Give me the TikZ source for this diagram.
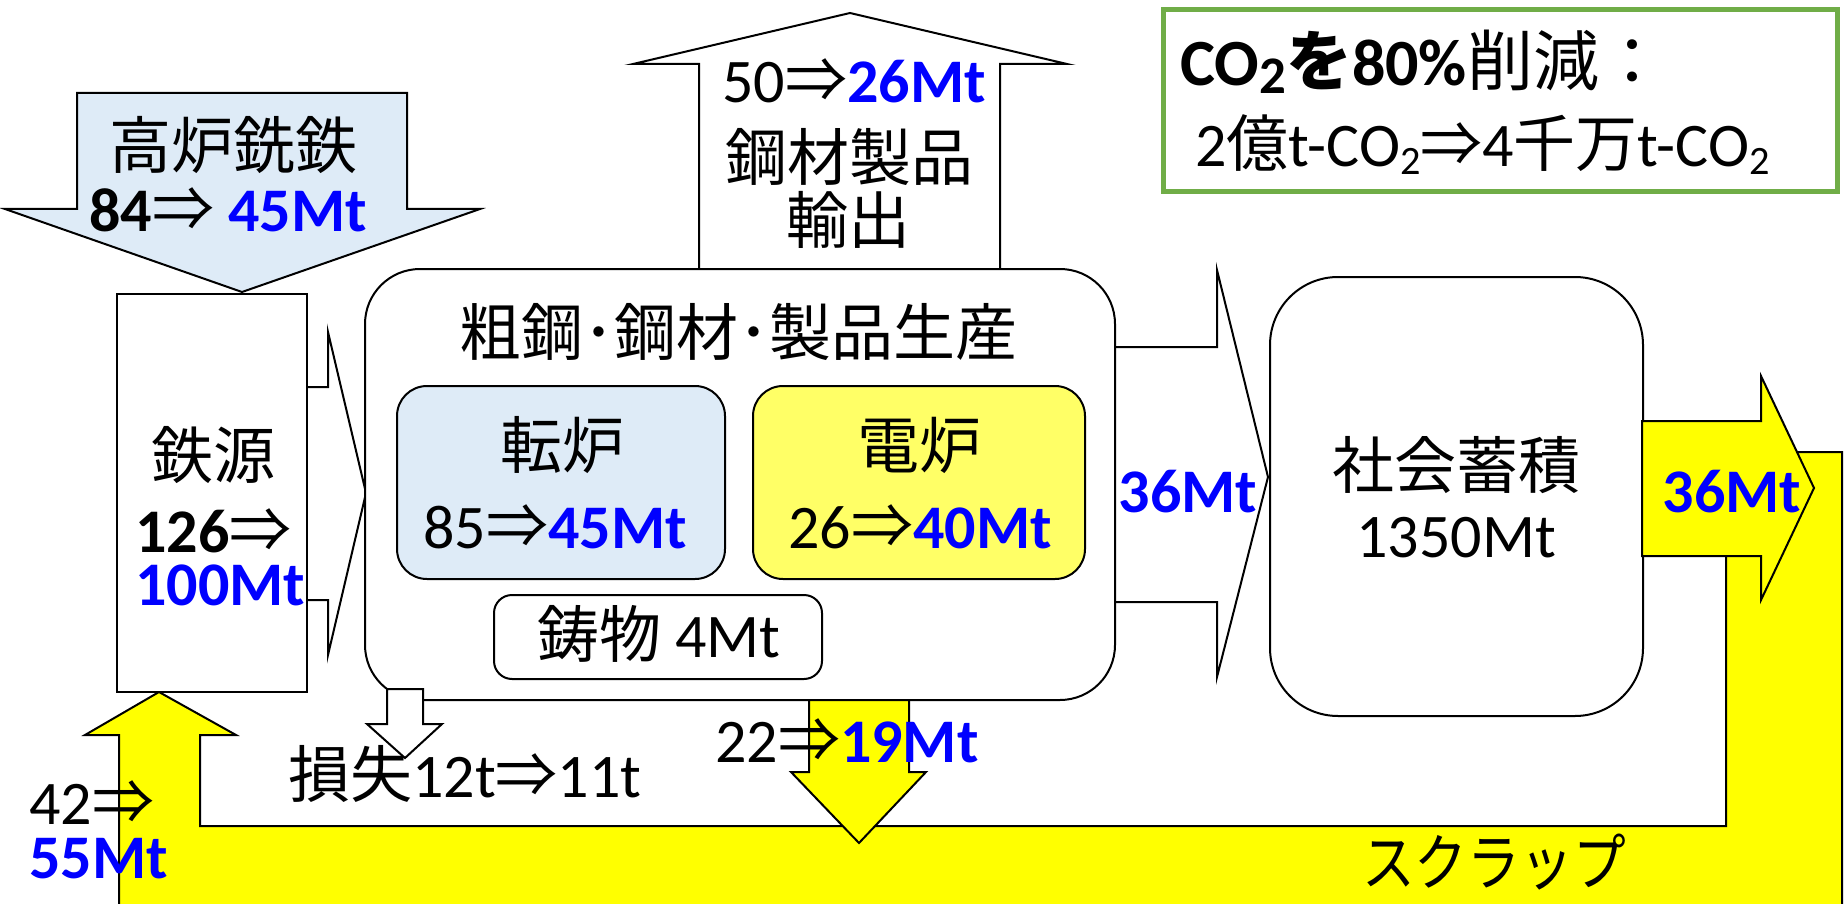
\documentclass[tikz,border=0pt]{standalone}
\usepackage{fontspec}
\setmainfont{Carlito}
\newfontfamily\jp{Noto Sans CJK JP}
\definecolor{lblue}{RGB}{222,235,247}
\definecolor{yel}{RGB}{255,255,0}
\definecolor{lyel}{RGB}{255,255,102}
\definecolor{txtblue}{RGB}{0,0,255}
\definecolor{grn}{RGB}{112,173,71}
\newcommand\J[1]{{\jp #1}}
\newcommand\B[1]{{\bfseries\color{txtblue}#1}}
\newcommand\Ar{{\jp\mdseries ⇒}}
\newcommand\lowtwo[1]{\raisebox{-0.12em}{\scalebox{#1}{2}}}
\begin{document}
\begin{tikzpicture}[x=1pt,y=-1pt,
  lbl/.style={inner sep=0pt, font=\fontsize{62}{70}\selectfont},
  num/.style={lbl, text height=40pt, text depth=0pt},
  outl/.style={draw=black, line width=2pt, line join=miter},
  rbox/.style={outl, rounded corners=#1, inner sep=0pt},
]
\useasboundingbox (0,0) rectangle (1847,904);
% scrap loop (yellow U band)
\path[outl, fill=yel] (119,924) -- (119,735) -- (85,735) -- (159,692) -- (236,735) -- (200,735) -- (200,826) -- (1726,826) -- (1726,452) -- (1842,452) -- (1842,924) -- cycle;
% blast furnace arrow
\path[outl, fill=lblue] (77,93) -- (407,93) -- (407,209) -- (480,209) -- (242,292) -- (5,209) -- (77,209) -- cycle;
% iron source arrow + box
\path[outl, fill=white] (250,387) -- (328,387) -- (328,332) -- (366,493) -- (328,655) -- (328,600) -- (250,600) -- cycle;
\node[outl, fill=white, inner sep=0pt, minimum width=190, minimum height=398] (src) at (212,493) {};
% export arrow
\path[outl, fill=white] (699,290) -- (699,64) -- (633,64) -- (850,13) -- (1067,64) -- (1000,64) -- (1000,290);
% arrow to society
\path[outl, fill=white] (1100,347) -- (1217,347) -- (1217,270) -- (1268,477) -- (1217,677) -- (1217,602) -- (1100,602) -- cycle;
% scrap down arrow
\path[outl, fill=yel] (809,690) -- (809,772) -- (791,772) -- (859,843) -- (926,772) -- (909,772) -- (909,690) -- cycle;
% main production box
\node[rbox=55, fill=white, minimum width=750, minimum height=431] (main) at (740,484.5) {};
\node[rbox=30, fill=lblue, minimum width=328, minimum height=193] (bof) at (561,482.5) {};
\node[rbox=30, fill=lyel, minimum width=332, minimum height=193] (eaf) at (919,482.5) {};
\node[rbox=18, fill=white, minimum width=328, minimum height=84] (cast) at (658,637) {};
% loss arrow
\path[outl, fill=white] (387,689) -- (423,689) -- (423,724) -- (442,724) -- (405,758) -- (367,724) -- (387,724) -- cycle;
% society stock box
\node[rbox=68, fill=white, minimum width=373, minimum height=439] (soc) at (1456.5,496.5) {};
% scrap arrow out of society
\path[outl, fill=yel] (1642,421) -- (1761,421) -- (1761,376) -- (1814,488) -- (1761,600) -- (1761,556) -- (1642,556) -- cycle;
% CO2 box
\node[draw=grn, line width=5pt, fill=white, inner sep=0pt, minimum width=674, minimum height=182] (co2) at (1500,101) {};

% texts
\node[lbl] (t1) at (233,145) {\J{高炉銑鉄}};
\node[num, font=\fontsize{62}{70}\selectfont\bfseries] (t2) at (228,212) {84\Ar{} \B{45Mt}};
\node[lbl] (t3) at (213,455) {\J{鉄源}};
\node[num, anchor=west, font=\fontsize{62}{70}\selectfont\bfseries] (t4) at (135,532) {126\Ar};
\node[num, anchor=west] (t5) at (135,585) {\B{100Mt}};
\node[num] (t6) at (854,83) {50\Ar\B{26Mt}};
\node[lbl] (t7) at (849,157) {\J{鋼材製品}};
\node[lbl] (t8) at (848,220) {\J{輸出}};
\node[lbl, anchor=west, font=\fontsize{66}{72}\selectfont] (t9) at (1180,62) {{\bfseries CO\lowtwo{0.8}\J{\bfseries を}80\%}\J{削減：}};
\node[num, anchor=west] (t10) at (1195,147) {2\J{億}t-CO\lowtwo{0.65}\Ar4\J{千万}t-CO\lowtwo{0.65}};
\node[lbl] (t11) at (738,332) {\J{粗鋼･鋼材･製品生産}};
\node[lbl] (t12) at (562,445) {\J{転炉}};
\node[num] (t13) at (555,528) {85\Ar\B{45Mt}};
\node[lbl] (t14) at (919,445) {\J{電炉}};
\node[num] (t15) at (920,528) {26\Ar\B{40Mt}};
\node[num] (t16) at (659,637) {\J{鋳物} 4Mt};
\node[num] (t17) at (1188,492) {\B{36Mt}};
\node[lbl] (t18) at (1456,465) {\J{社会蓄積}};
\node[num] (t19) at (1456,537) {1350Mt};
\node[num] (t20) at (1732,492) {\B{36Mt}};
\node[num, anchor=west] (t21) at (715,742) {22\Ar\B{19Mt}};
\node[num, anchor=west] (t22) at (288,777) {\J{損失}12t\Ar11t};
\node[num, anchor=west] (t23) at (29,804) {42\Ar};
\node[num, anchor=west] (t24) at (29,858) {\B{55Mt}};
\node[lbl] (t25) at (1494,862) {\scalebox{0.85}[1]{\J{スクラップ}}};
\end{tikzpicture}
\end{document}
